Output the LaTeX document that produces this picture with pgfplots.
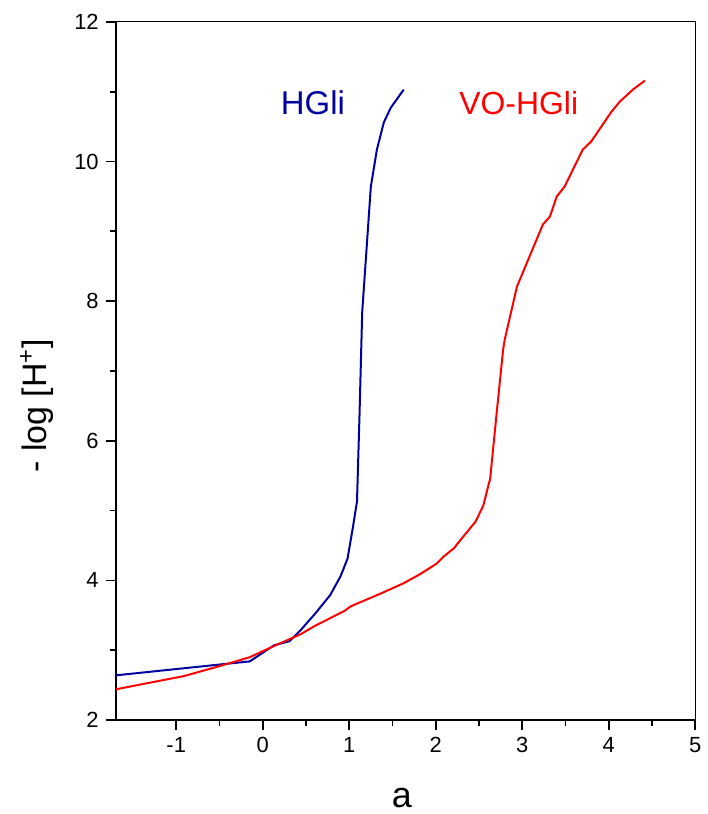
\documentclass[border=0pt]{standalone}
\usepackage{pgfplots}
\pgfplotsset{compat=1.18}
\usepackage{fontspec}
\setmainfont{Liberation Sans}
\definecolor{hgblue}{RGB}{0,0,160}
\definecolor{vored}{RGB}{255,0,0}
\begin{document}
\begin{tikzpicture}
\begin{axis}[
  scale only axis,
  width=290.5pt, height=350pt,
  xmin=-1.7, xmax=5, ymin=2, ymax=12,
  axis lines=left,
  axis line style={-, line width=1pt},
  xtick={-1,0,1,2,3,4,5},
  ytick={2,4,6,8,10,12},
  minor x tick num=1, minor y tick num=1,
  tick align=outside,
  major tick length=5pt, minor tick length=3pt,
  every tick/.style={black, line width=0.9pt},
  /pgf/number format/assume math mode=true,
  ticklabel style={font=\fontsize{11}{13}\selectfont},
  xlabel={a}, ylabel={- log [H\textsuperscript{+}]},
  xlabel style={font=\fontsize{18}{20}\selectfont, at={(axis description cs:0.494,-0.111)}, anchor=center},
  ylabel style={font=\fontsize{17}{20}\selectfont, at={(axis description cs:-0.136,0.45)}, anchor=center},
  clip=false,
]
\path (axis description cs:-0.1997,-0.1314) (axis description cs:1.0103,1.0314);
\draw[line width=0.5pt] (rel axis cs:0,1) -- (rel axis cs:1,1) -- (rel axis cs:1,0);
\addplot[hgblue, line width=1pt] coordinates {
(-1.7,2.64) (-0.15,2.84) (0.13,3.07) (0.31,3.13) (0.44,3.29) (0.61,3.53)
(0.78,3.79) (0.90,4.06) (0.98,4.31) (1.04,4.74) (1.09,5.13) (1.12,6.41)
(1.15,7.84) (1.25,9.64) (1.32,10.17) (1.40,10.56) (1.48,10.77) (1.63,11.03)
};
\addplot[vored, line width=1pt] coordinates {
(-1.7,2.44) (-0.91,2.63) (-0.45,2.79) (-0.15,2.90) (0.13,3.06) (0.44,3.23)
(0.59,3.34) (0.94,3.56) (1.02,3.63) (1.36,3.81) (1.63,3.96) (1.82,4.09)
(2.01,4.24) (2.09,4.34) (2.21,4.46) (2.32,4.63) (2.46,4.84) (2.55,5.07)
(2.63,5.46) (2.71,6.46) (2.78,7.31) (2.80,7.46) (2.94,8.21) (3.24,9.10)
(3.32,9.21) (3.40,9.50) (3.49,9.64) (3.70,10.17) (3.80,10.29) (4.03,10.71)
(4.13,10.86) (4.28,11.03) (4.42,11.16)
};
\node[hgblue, font=\fontsize{16.5}{18}\selectfont] at (axis cs:0.58,10.84) {HGli};
\node[vored, font=\fontsize{16}{18}\selectfont] at (axis cs:2.96,10.84) {VO-HGli};
\end{axis}
\end{tikzpicture}
\end{document}
